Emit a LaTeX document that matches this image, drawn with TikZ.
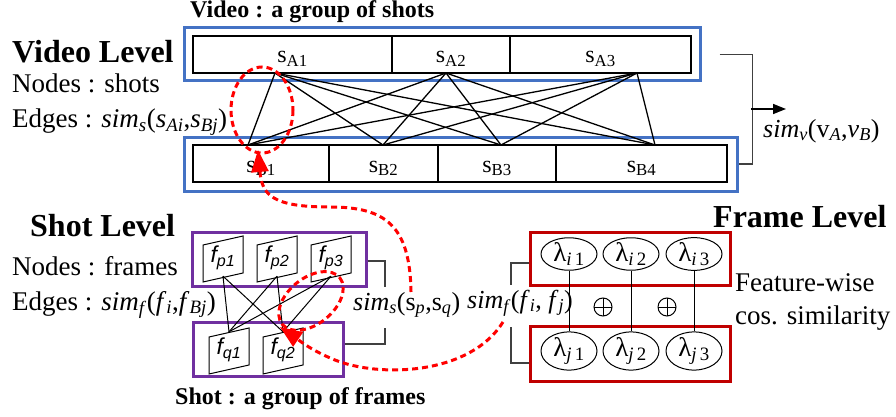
\documentclass[tikz,border=0pt]{standalone}
\usepackage{fontspec}
\setmainfont{Liberation Serif}
\newfontfamily\arialf{Liberation Sans}
\usepackage{tikz}
\usetikzlibrary{calc}
\usetikzlibrary{shapes.geometric, arrows.meta, positioning}

\newcommand{\fsz}[1]{\fontsize{#1}{#1}\selectfont}
\definecolor{vidblue}{RGB}{68,114,196}
\definecolor{shotpurple}{RGB}{112,48,160}
\definecolor{framered}{RGB}{192,0,0}
\definecolor{bracketgray}{RGB}{64,64,64}

\begin{document}
\begin{tikzpicture}[x=1pt, y=-1pt,
    bluebox/.style={draw=vidblue, line width=3pt, inner sep=0pt},
    purplebox/.style={draw=shotpurple, line width=3pt, inner sep=0pt},
    redbox/.style={draw=framered, line width=3pt, inner sep=0pt},
    cell/.style={draw, line width=1.5pt, inner xsep=0pt, inner ysep=0pt,
        minimum height=37pt, text height=27pt, text depth=10pt, font=\fsz{24}},
    frm/.style={minimum width=40pt, minimum height=36pt, inner sep=0pt,
        font=\fsz{23}\arialf\itshape},
    lam/.style={draw, ellipse, line width=1pt, minimum width=56pt,
        minimum height=31pt, inner sep=0pt, font=\fsz{27}},
    oplus/.style={draw, circle, line width=1pt, minimum size=18pt, inner sep=0pt,
        path picture={\draw[line width=1pt]
            (path picture bounding box.north) -- (path picture bounding box.south)
            (path picture bounding box.west) -- (path picture bounding box.east);}},
    brk/.style={draw=bracketgray, line width=1.5pt},
    reddash/.style={draw=red, line width=3pt, dash pattern=on 6pt off 4pt},
    txt/.style={anchor=base west, inner sep=0pt}]

\useasboundingbox (0,0) rectangle (896,417);

% Video level: labels
\node[txt, font=\fsz{24}\bfseries] (vidcap) at (190,18) {Video : a group of shots};
\node[txt, font=\fsz{32}\bfseries] (vidlev) at (12,63) {Video Level};
\node[txt, font=\fsz{27}] (vidnodes) at (12,93) {Nodes : shots};
\node[txt, font=\fsz{27}] (videdges) at (12,128)
    {Edges : \textit{sim}\textsubscript{\textit{s}}(\textit{s}\textsubscript{\textit{Ai}},\textit{s}\textsubscript{\textit{Bj}})};

% Video A and its shots
\node[bluebox, minimum width=516pt, minimum height=53pt] (vidA) at (442,54.5) {};
\node[cell, minimum width=199pt] (sA1) at (292.5,54.5) {s\textsubscript{A1}};
\node[cell, minimum width=118pt] (sA2) at (451,54.5) {s\textsubscript{A2}};
\node[cell, minimum width=181pt] (sA3) at (600.5,54.5) {s\textsubscript{A3}};

% Video B and its shots
\node[bluebox, minimum width=553pt, minimum height=54pt] (vidB) at (460.5,164) {};
\node[cell, minimum width=136pt] (sB1) at (261,163.5) {s\textsubscript{B1}};
\node[cell, minimum width=109pt] (sB2) at (383.5,163.5) {s\textsubscript{B2}};
\node[cell, minimum width=118pt] (sB3) at (497,163.5) {s\textsubscript{B3}};
\node[cell, minimum width=171pt] (sB4) at (641.5,163.5) {s\textsubscript{B4}};

% Edges between shots
\coordinate (ea1) at (275,73);
\coordinate (ea2) at (446,73);
\coordinate (ea3) at (637,73);
\coordinate (eb1) at (248,145);
\coordinate (eb2) at (383,145);
\coordinate (eb3) at (501,145);
\coordinate (eb4) at (655,145);
\foreach \a in {1,2,3}
{
    \foreach \b in {1,...,4}
    {
        \draw[line width=1.3pt] (ea\a) -- (eb\b);
    }
}

% Video similarity bracket
\coordinate (vmid) at (751,109);
\coordinate (vend) at (786,109);
\draw[brk] ([xshift=18pt]vidA.east) -| ([xshift=14pt]vidB.east) -- (vidB.east);
\draw[line width=1.5pt, -{Triangle[length=13pt,width=10pt]}] (vmid) -- (vend);
\node[txt, font=\fsz{26}] (simv) at (763,137)
    {\textit{sim}\textsubscript{\textit{v}}(v\textsubscript{\textit{A}},\textit{v}\textsubscript{\textit{B}})};

% Shot level: labels
\node[txt, font=\fsz{32}\bfseries] (shotlev) at (30,236) {Shot Level};
\node[txt, font=\fsz{27}] (shotnodes) at (12,275) {Nodes : frames};
\node[txt, font=\fsz{27}] (shotedges) at (12,310)
    {Edges : \textit{sim}\textsubscript{\textit{f}}(\textit{f}\textsubscript{\textit{i}},\textit{f}\textsubscript{\textit{Bj}})};
\node[txt, font=\fsz{24}\bfseries] (shotcap) at (175,404) {Shot : a group of frames};

% Shots p and q with their frames
\node[purplebox, minimum width=174pt, minimum height=54pt] (shotp) at (279,259) {};
\node[purplebox, minimum width=150pt, minimum height=54pt] (shotq) at (268,349) {};
\foreach \n/\x/\y in {p1/223/258, p2/277/258, p3/331/258, q1/229/350, q2/283/350}
{
    \node[frm] (f\n) at (\x,\y) {f\textsubscript{\n}};
    \draw[line width=1pt] (\x-20,\y-13) -- ++(40,-9) -- ++(0,37) -- ++(-40,9) -- cycle;
}

% Edges between frames
\foreach \p in {1,2,3}
{
    \foreach \q in {1,2}
    {
        \draw[line width=1pt] (fp\p.south) -- (fq\q.north);
    }
}

% Shot similarity bracket
\node[txt, font=\fsz{26}] (sims) at (353,310)
    {\textit{sim}\textsubscript{\textit{s}}(s\textsubscript{\textit{p}},s\textsubscript{\textit{q}})};
\draw[brk] (shotp.east |- 0,261) -- (385,261) -- (385,287);
\draw[brk] (385,328) -- (385,344) -- (shotq.east |- 0,344);

% Frame level: labels
\node[txt, font=\fsz{32}\bfseries] (framelev) at (713,227) {Frame Level};
\node[txt, font=\fsz{27}] (featw) at (735,291) {Feature-wise};
\node[txt, font=\fsz{27}] (cossim) at (735,324) {cos. similarity};

% Frames i and j with their features
\node[redbox, minimum width=200pt, minimum height=53pt] (framei) at (630,258.5) {};
\node[redbox, minimum width=200pt, minimum height=55pt] (framej) at (630,353.5) {};
\foreach \k/\x in {1/569, 2/631, 3/694}
{
    \node[lam] (li\k) at (\x,254) {λ\textsubscript{\textit{i}\,\k}};
    \node[lam] (lj\k) at (\x,351) {λ\textsubscript{\textit{j}\,\k}};
    \draw[line width=1pt] (li\k.south) -- (lj\k.north);
}
\node[oplus] (oplus1) at (603,307) {};
\node[oplus] (oplus2) at (667,307) {};

% Frame similarity bracket
\node[txt, font=\fsz{26}] (simf) at (467,308)
    {\textit{sim}\textsubscript{\textit{f}}(\textit{f}\textsubscript{\textit{i}}, \textit{f}\textsubscript{\textit{j}})};
\draw[brk] (framei.west |- 0,263) -- (511,263) -- (511,285);
\draw[brk] (511,327) -- (511,363) -- (framej.west |- 0,363);

% Red zoom marks
\draw[reddash] (262,110) ellipse [x radius=31, y radius=43];
\draw[reddash] (311,301) ellipse [x radius=37, y radius=23, rotate=39];
\coordinate (rc1s) at (411,292);
\coordinate (rc1e) at (258,150);
\coordinate (rc2s) at (503,322);
\coordinate (rc2e) at (280,327);
\draw[reddash, -{Triangle[length=22pt,width=17pt]}] (rc1s)
    .. controls (410,225) and (385,207) .. (330,207)
    .. controls (272,207) and (262,195) .. (rc1e);
\draw[reddash, -{Triangle[length=22pt,width=17pt]}] (rc2s)
    .. controls (470,375) and (380,378) .. (335,360)
    .. controls (310,350) and (296,338) .. (rc2e);

\end{tikzpicture}
\end{document}
